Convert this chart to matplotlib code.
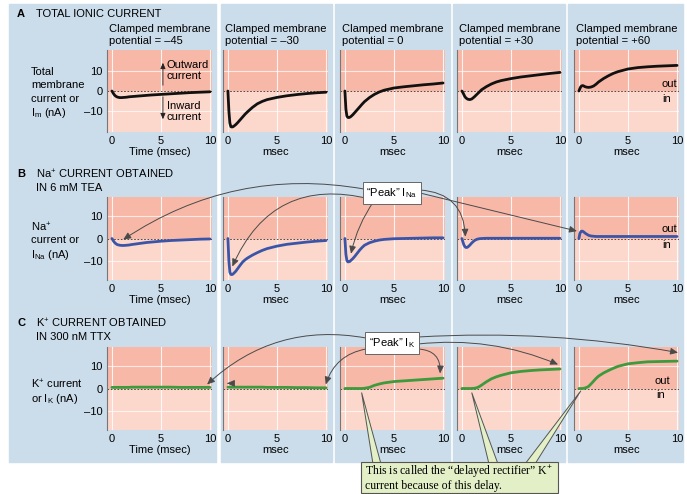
import matplotlib
matplotlib.use("Agg")
import matplotlib.pyplot as plt
from matplotlib.patches import Rectangle, Polygon, ConnectionPatch

plt.rcParams['font.family'] = ['Liberation Sans', 'DejaVu Sans']
plt.rcParams['mathtext.fontset'] = 'custom'
plt.rcParams['mathtext.rm'] = 'Liberation Sans'
plt.rcParams['mathtext.it'] = 'Liberation Sans:italic'
plt.rcParams['mathtext.bf'] = 'Liberation Sans:bold'

W, H = 687, 494

# sample times (msec) shared by every trace
time_ms = [0, 0.1, 0.2, 0.3, 0.4, 0.5, 0.6, 0.8, 1.0, 1.25, 1.5, 1.75,
           2.0, 2.5, 3.0, 3.5, 4.0, 5.0, 6.0, 7.0, 8.0, 9.0, 10.0]
potentials = ["–45", "–30", "0", "+30", "+60"]

# A: total membrane current (nA)
total_m45 = [0, -0.8, -1.6, -2.2, -2.6, -2.9, -3.1, -3.3, -3.3, -3.2, -3.1, -2.9,
             -2.8, -2.6, -2.4, -2.2, -2.0, -1.7, -1.4, -1.1, -0.8, -0.6, -0.4]
total_m30 = [0, -10.0, -16.0, -17.8, -18.0, -17.9, -17.6, -16.8, -15.8, -14.4, -13.0, -11.6,
             -10.4, -8.2, -6.4, -5.2, -4.3, -3.2, -2.4, -1.8, -1.3, -0.9, -0.6]
total_0 = [0, -9.0, -12.5, -13.2, -13.3, -13.1, -12.8, -11.9, -10.8, -9.4, -8.0, -6.6,
           -5.3, -3.3, -1.7, -0.5, 0.4, 1.5, 2.1, 2.6, 3.1, 3.5, 4.0]
total_p30 = [0, -0.8, -1.8, -2.8, -3.4, -3.8, -4.1, -4.3, -4.0, -3.0, -1.8, -0.6,
             0.6, 2.2, 3.5, 4.5, 5.2, 6.2, 7.0, 7.6, 8.2, 8.8, 9.3]
total_p60 = [0, 1.2, 2.2, 2.6, 2.7, 2.5, 2.2, 1.9, 1.8, 2.0, 2.5, 3.4,
             4.5, 6.2, 7.6, 8.8, 9.7, 11.0, 11.7, 12.1, 12.4, 12.6, 12.8]

# B: Na+ current in TEA (nA)
na_m45 = [0, -0.7, -1.4, -1.9, -2.3, -2.6, -2.8, -3.0, -3.1, -3.1, -3.0, -2.9,
          -2.7, -2.4, -2.1, -1.8, -1.6, -1.2, -0.9, -0.7, -0.5, -0.3, -0.2]
na_m30 = [0, -10.0, -15.0, -16.0, -16.1, -15.9, -15.5, -14.6, -13.4, -11.9, -10.5, -9.5,
          -8.7, -7.4, -6.3, -5.3, -4.5, -3.4, -2.6, -2.1, -1.6, -1.2, -0.9]
na_0 = [0, -7.0, -9.8, -10.4, -10.4, -10.2, -9.8, -9.0, -8.0, -6.6, -5.2, -4.0,
        -3.0, -1.9, -1.2, -0.7, -0.4, -0.1, 0, 0.1, 0.2, 0.3, 0.3]
na_p30 = [0, -1.5, -2.8, -3.6, -4.0, -4.0, -3.8, -3.0, -2.0, -1.0, -0.4, -0.1,
          0, 0.1, 0.1, 0.1, 0.1, 0.1, 0.1, 0.1, 0.1, 0.1, 0.1]
na_p60 = [0, 2.2, 3.1, 3.3, 3.2, 2.9, 2.5, 1.9, 1.4, 1.1, 1.0, 0.9,
          0.9, 0.9, 0.9, 0.9, 0.9, 0.9, 0.9, 0.9, 0.9, 0.9, 0.9]

# C: K+ current in TTX (nA)
k_m45 = [0.5, 0.5, 0.5, 0.5, 0.5, 0.5, 0.5, 0.5, 0.5, 0.5, 0.5, 0.5,
         0.6, 0.6, 0.6, 0.6, 0.6, 0.6, 0.6, 0.5, 0.5, 0.5, 0.5]
k_m30 = [0.6, 0.6, 0.6, 0.6, 0.6, 0.6, 0.6, 0.6, 0.6, 0.6, 0.6, 0.6,
         0.6, 0.6, 0.6, 0.6, 0.5, 0.5, 0.5, 0.4, 0.4, 0.3, 0.3]
k_0 = [0, 0, 0, 0, 0, 0, 0, 0, 0, 0, 0, 0,
       0.1, 0.5, 1.4, 2.0, 2.5, 3.1, 3.4, 3.7, 4.0, 4.3, 4.6]
k_p30 = [0, 0, 0, 0, 0, 0, 0, 0, 0, 0.1, 0.3, 0.8,
         1.5, 3.0, 4.3, 5.2, 5.9, 7.0, 7.6, 8.0, 8.3, 8.5, 8.7]
k_p60 = [0, 0, 0, 0, 0, 0.1, 0.2, 0.5, 1.0, 2.1, 3.3, 4.5,
         5.5, 6.9, 8.0, 9.0, 9.9, 11.0, 11.5, 11.9, 12.0, 12.1, 12.2]

traces = [[total_m45, total_m30, total_0, total_p30, total_p60],
          [na_m45, na_m30, na_0, na_p30, na_p60],
          [k_m45, k_m30, k_0, k_p30, k_p60]]
line_colors = ['#111111', '#3a55a8', '#3d9a3d']

BLUE = '#cbdcea'
UPPER = '#f7b8a8'
LOWER = '#fcd7cc'
ARROW = '#4a4a4a'


def fx(x):
    return x / W


def fy(y):
    return 1 - y / H


fig = plt.figure(figsize=(W / 100, H / 100), dpi=100)

# light blue column panels
for x0, x1 in [(9, 216), (221, 332), (335, 450), (453, 565), (568, 683)]:
    fig.patches.append(Rectangle((fx(x0), fy(462)), fx(x1 - x0), (462 - 4) / H,
                                 transform=fig.transFigure, color=BLUE, zorder=-5))

col_left = [107, 223, 340, 457, 574]
ax_w = 105
row_top = [50, 197, 347]
row_bot = [132, 280, 430]
ylims = [20.5, 18.5, 18.5]

axes = []
for r in range(3):
    row = []
    for c in range(5):
        ax = fig.add_axes([fx(col_left[c]), fy(row_bot[r]), fx(ax_w),
                           (row_bot[r] - row_top[r]) / H])
        lim = ylims[r]
        ax.set_xlim(-0.5, 10.2)
        ax.set_ylim(-lim, lim)
        ax.axhspan(0, lim, color=UPPER, lw=0)
        ax.axhspan(-lim, 0, color=LOWER, lw=0)
        for g in (0, 5, 10):
            ax.axvline(g, color='white', lw=0.8, alpha=0.85)
        for g in (-10, 10):
            ax.axhline(g, color='white', lw=0.8, alpha=0.7)
        ax.axhline(0, color='#333333', lw=0.6, ls=(0, (2, 2)))
        ax.plot(time_ms, traces[r][c], color=line_colors[r], lw=2.0,
                solid_joinstyle='round', solid_capstyle='round')
        for s in ('top', 'right', 'bottom'):
            ax.spines[s].set_visible(False)
        ax.spines['left'].set_color('#777777')
        ax.spines['left'].set_linewidth(0.8)
        ax.set_xticks([0, 5, 10])
        ax.set_xticklabels(['0', '5', '10'])
        ax.tick_params(length=0, labelsize=8, pad=3.2)
        if c == 0:
            ax.set_yticks([-10, 0, 10])
            ax.set_yticklabels(['–10', '0', '10'])
            ax.set_xlabel('Time (msec)', fontsize=8)
        else:
            ax.set_yticks([])
            ax.set_xlabel('msec', fontsize=8)
        ax.xaxis.set_label_coords(0.5, -20 / (row_bot[r] - row_top[r]))
        ax.xaxis.label.set_va('center')
        row.append(ax)
    axes.append(row)

# column titles
for c in range(5):
    fig.text(fx(col_left[c] + 2), fy(24), "Clamped membrane\npotential = " + potentials[c],
             ha='left', va='top', fontsize=8, linespacing=1.2)

# row headings
heads = [("A", ["TOTAL IONIC CURRENT"], 13),
         ("B", ["Na$^{+}$ CURRENT OBTAINED", "IN 6 mM TEA"], 173),
         ("C", ["K$^{+}$ CURRENT OBTAINED", "IN 300 nM TTX"], 322)]
for letter, lines, y in heads:
    fig.text(fx(17), fy(y), letter, fontsize=8, fontweight='bold', va='center_baseline')
    for i, s in enumerate(lines):
        fig.text(fx(36), fy(y + 14 * i), s, fontsize=8, va='center_baseline')

# y axis labels
ylabels = [[("Total", 71), ("membrane", 84), ("current or", 98), ("I$_\\mathrm{m}$ (nA)", 111)],
           [("Na$^{+}$", 226), ("current or", 239), ("I$_\\mathrm{Na}$ (nA)", 253)],
           [("K$^{+}$ current", 383), ("or I$_\\mathrm{K}$ (nA)", 397)]]
for lines in ylabels:
    for s, y in lines:
        fig.text(fx(31), fy(y), s, fontsize=8, va='center_baseline')

# outward / inward markers
a1 = axes[0][0]
a1.annotate('', xy=(5.2, 15.5), xytext=(5.2, 1.5),
            arrowprops=dict(arrowstyle='-|>,head_length=0.35,head_width=0.15',
                            color='#222222', lw=0.6))
a1.annotate('', xy=(5.2, -15.5), xytext=(5.2, -1.5),
            arrowprops=dict(arrowstyle='-|>,head_length=0.35,head_width=0.15',
                            color='#222222', lw=0.6))
a1.text(5.6, 10.3, "Outward\ncurrent", fontsize=8, va='center', linespacing=1.15)
a1.text(5.6, -10.3, "Inward\ncurrent", fontsize=8, va='center', linespacing=1.15)

# out / in labels on the last column
for r, (xo, yo, xi, yi) in enumerate([(10.0, 3.5, 8.5, -4.0),
                                      (10.0, 4.4, 8.5, -2.7),
                                      (9.3, 3.5, 7.9, -2.7)]):
    ax = axes[r][4]
    ax.text(xo, yo, "out", fontsize=8, ha='right', va='center')
    ax.text(xi, yi, "in", fontsize=8, ha='left', va='center')


def peak_arrow(ax, start, target, rad):
    cp = ConnectionPatch(xyA=(start[0], H - start[1]), coordsA='figure pixels',
                         xyB=target, coordsB='data', axesB=ax,
                         arrowstyle='-|>,head_length=0.45,head_width=0.2',
                         connectionstyle='arc3,rad=%s' % rad,
                         color=ARROW, lw=0.7, mutation_scale=10, zorder=4)
    fig.add_artist(cp)


box_style = dict(boxstyle='square,pad=0.35', fc='white', ec='#666666', lw=0.7)

# "Peak" I_Na
fig.text(fx(392), fy(193), "“Peak” I$_\\mathrm{Na}$", fontsize=8, ha='center',
         va='center', bbox=box_style, zorder=6)
peak_arrow(axes[1][0], (364, 189), (1.15, -0.5), 0.2)
peak_arrow(axes[1][1], (370, 199), (0.45, -12.5), 0.42)
peak_arrow(axes[1][2], (374, 201), (0.62, -6.8), 0.1)
peak_arrow(axes[1][3], (420, 190), (0.35, 0.8), -0.45)
peak_arrow(axes[1][4], (420, 193), (-0.2, 3.3), 0.0)

# "Peak" I_K
fig.text(fx(392), fy(343), "“Peak” I$_\\mathrm{K}$", fontsize=8, ha='center',
         va='center', bbox=box_style, zorder=6)
peak_arrow(axes[2][0], (366, 338), (9.7, 1.8), 0.25)
peak_arrow(axes[2][1], (366, 349), (9.97, 1.8), 0.3)
peak_arrow(axes[2][2], (418, 349), (9.7, 6.7), -0.5)
peak_arrow(axes[2][3], (418, 344), (9.8, 10.7), -0.13)
peak_arrow(axes[2][4], (418, 337), (10.1, 16.0), -0.06)
axes[2][1].annotate('', xy=(-0.1, 2.3), xytext=(0.4, 2.3),
                    arrowprops=dict(arrowstyle='-|>,head_length=0.45,head_width=0.2',
                                    color=ARROW, lw=0.7, mutation_scale=10))

# delayed rectifier callout with pointers to the onset of the K+ rise
GREEN_BOX = '#e3efc6'
for ax, tip, base in [(axes[2][2], (1.7, -1.8), (373, 381)),
                      (axes[2][3], (1.0, -1.8), (489, 498)),
                      (axes[2][4], (0.2, -1.0), (525, 535))]:
    tx, ty = fig.transFigure.inverted().transform(ax.transData.transform(tip))
    poly = Polygon([(fx(base[0]), fy(464)), (tx, ty), (fx(base[1]), fy(464))],
                   closed=True, transform=fig.transFigure, fc=GREEN_BOX,
                   ec='#555555', lw=0.7, zorder=7)
    fig.add_artist(poly)
fig.patches.append(Rectangle((fx(361), fy(493)), fx(558 - 361), (493 - 462) / H,
                             transform=fig.transFigure, fc=GREEN_BOX, ec='#555555',
                             lw=0.8, zorder=8))
fig.text(fx(365), fy(472), "This is called the “delayed rectifier” K$^{+}$",
         fontsize=8.5, family='Liberation Serif', va='center', zorder=9)
fig.text(fx(365), fy(486), "current because of this delay.",
         fontsize=8.5, family='Liberation Serif', va='center', zorder=9)

fig.savefig('out.png', dpi=100)
